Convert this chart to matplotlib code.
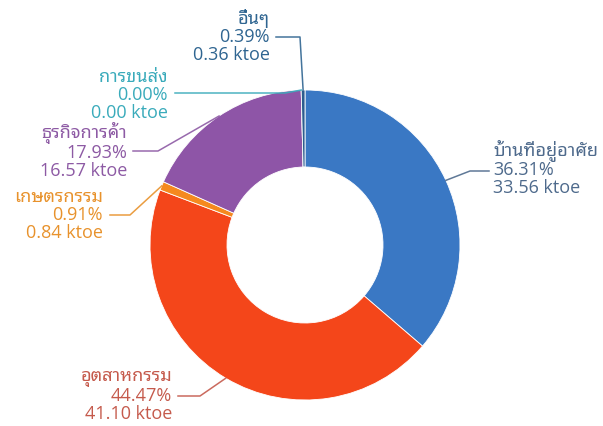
import numpy as np
import matplotlib
matplotlib.use("Agg")
import matplotlib.pyplot as plt

plt.rcParams['font.family'] = ['Open Sans', 'Noto Sans Thai Looped', 'DejaVu Sans']

# data
sectors = ['บ้านที่อยู่อาศัย', 'อุตสาหกรรม', 'เกษตรกรรม', 'ธุรกิจการค้า', 'การขนส่ง', 'อื่นๆ']
shares = [36.31, 44.47, 0.91, 17.93, 0.00, 0.39]
ktoe = [33.56, 41.10, 0.84, 16.57, 0.00, 0.36]

colors = ['#3a78c4', '#f4461a', '#f5891f', '#8e55a7', '#35b3bf', '#2c5d8f']
text_colors = ['#4e6a8c', '#c55a4c', '#e8922c', '#8d5aa4', '#3aabbb', '#2f6591']

# label layout in pixels: (text x, text y, elbow x, elbow y, line end x, ha)
layout = [
    (493, 168, 470, 171, 489, 'left'),
    (172, 396, 200, 396, 178, 'right'),
    (103, 215, 130, 215, 110, 'right'),
    (127, 151, 158, 151, 133, 'right'),
    (168, 95, 285, 93, 175, 'right'),
    (270, 37, 300, 37, 276, 'right'),
]

W, H = 603, 426
cx, cy, r_out, r_in = 305, 245, 155, 78

fig = plt.figure(figsize=(W / 100, H / 100), dpi=100)
ax = fig.add_axes([0, 0, 1, 1])
ax.axis('off')

wedges, _ = ax.pie(shares, colors=colors, startangle=90, counterclock=False,
                   center=(cx, H - cy), radius=r_out,
                   wedgeprops=dict(width=r_out - r_in, linewidth=0.6, edgecolor='white'))
ax.set_xlim(0, W)
ax.set_ylim(0, H)
ax.set_aspect('auto')

for w, name, s, k, tc, (tx, ty, ex, ey, lx, ha) in zip(wedges, sectors, shares, ktoe, text_colors, layout):
    ang = np.deg2rad((w.theta1 + w.theta2) / 2)
    px = cx + r_out * np.cos(ang)
    py = H - cy + r_out * np.sin(ang)
    ax.plot([px, ex, lx], [py, H - ey, H - ey], color=tc, lw=1.1, alpha=0.9)
    ax.text(tx, H - ty, f'{name}\n{s:.2f}%\n{k:.2f} ktoe', color=tc, fontsize=13,
            ha=ha, va='center', multialignment=ha, linespacing=1.0)

fig.savefig('out.png', dpi=100)
